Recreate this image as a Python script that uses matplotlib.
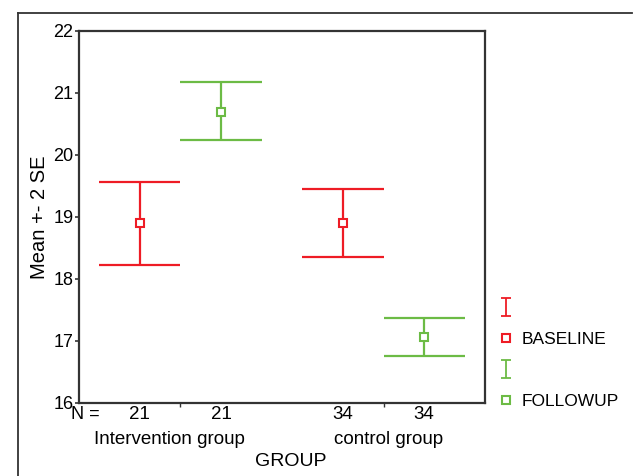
import matplotlib
matplotlib.use("Agg")
import matplotlib.pyplot as plt
import matplotlib.transforms as mtransforms
from matplotlib.lines import Line2D
from matplotlib.path import Path
import numpy as np

plt.rcParams['font.family'] = ['Liberation Sans', 'DejaVu Sans']

# data
groups = ["Intervention group", "control group"]
n_counts = ["21", "21", "34", "34"]
baseline_mean = [18.91, 18.90]
baseline_upper = [19.57, 19.45]
baseline_lower = [18.23, 18.35]
followup_mean = [20.70, 17.06]
followup_upper = [21.18, 17.37]
followup_lower = [20.24, 16.75]

red = '#EE1C25'
green = '#6CBB45'
dark = '#333333'

fig = plt.figure(figsize=(6.33, 4.76), dpi=100)
ax = fig.add_axes([0.1248, 0.1534, 0.6414, 0.7815])

centres = np.arange(len(groups)) + 0.5
off = 0.2
half = 0.2

series = [
    (centres - off, baseline_mean, baseline_upper, baseline_lower, red),
    (centres + off, followup_mean, followup_upper, followup_lower, green),
]
for xs, m, up, lo, col in series:
    ax.vlines(xs, lo, up, color=col, lw=1.6)
    ax.hlines(up, xs - half, xs + half, color=col, lw=1.6)
    ax.hlines(lo, xs - half, xs + half, color=col, lw=1.6)
    ax.plot(xs, m, ls='none', marker='s', ms=6, mfc='white', mec=col, mew=1.5)

ax.set_xlim(0, 2)
ax.set_ylim(16, 22)
ax.set_yticks(np.arange(16, 23))
ax.tick_params(axis='y', direction='out', length=3, width=1.2, color=dark,
               labelsize=13, pad=1)
ax.set_xticks(centres)
ax.set_xticklabels(groups, fontsize=13.5)
ax.tick_params(axis='x', direction='out', length=3, width=1, color=dark, pad=17)
# SPSS puts the group names a little off their ticks
for lab, dx in zip(ax.get_xticklabels(), [-11, 5]):
    lab.set_transform(lab.get_transform() +
                      mtransforms.ScaledTranslation(dx / 100, 0, fig.dpi_scale_trans))
for s in ax.spines.values():
    s.set_color(dark)
    s.set_linewidth(1.6)

# N counts under the axis
trans = ax.get_xaxis_transform()
n_pos = np.concatenate([centres - off, centres + off])
n_pos.sort()
for x, n in zip(n_pos, n_counts):
    ax.text(x, -0.03, n, transform=trans, ha='center', va='center', fontsize=13.5)
ax.text(0.03, -0.03, "N =", transform=trans, ha='center', va='center', fontsize=13)

ax.set_xlabel("GROUP", fontsize=14)
ax.xaxis.set_label_coords(0.522, -0.135)
ax.set_ylabel("Mean +- 2 SE", fontsize=14.5, labelpad=3)

# legend
i_path = Path([(-0.5, 1), (0.5, 1), (0, 1), (0, -1), (-0.5, -1), (0.5, -1)],
              [Path.MOVETO, Path.LINETO, Path.MOVETO, Path.LINETO, Path.MOVETO, Path.LINETO])
handles = [
    Line2D([], [], ls='none', marker=i_path, ms=13, mec=red, mfc='none', mew=1.3),
    Line2D([], [], ls='none', marker='s', ms=6, mfc='white', mec=red, mew=1.5),
    Line2D([], [], ls='none', marker=i_path, ms=13, mec=green, mfc='none', mew=1.3),
    Line2D([], [], ls='none', marker='s', ms=6, mfc='white', mec=green, mew=1.5),
]
labels = ["", "BASELINE", "", "FOLLOWUP"]
ax.legend(handles, labels, loc='upper left', bbox_to_anchor=(1.0, 0.306),
          frameon=False, fontsize=12.5, handlelength=1.0, handletextpad=0.4,
          labelspacing=0.9, borderaxespad=0.3)

# outer frame
fig.add_artist(Line2D([18 / 633, 632 / 633], [1 - 13 / 476, 1 - 13 / 476],
                      transform=fig.transFigure, color=dark, lw=1.3))
fig.add_artist(Line2D([18 / 633, 18 / 633], [1 - 13 / 476, 0],
                      transform=fig.transFigure, color=dark, lw=1.3))

fig.savefig("out.png", dpi=100)
